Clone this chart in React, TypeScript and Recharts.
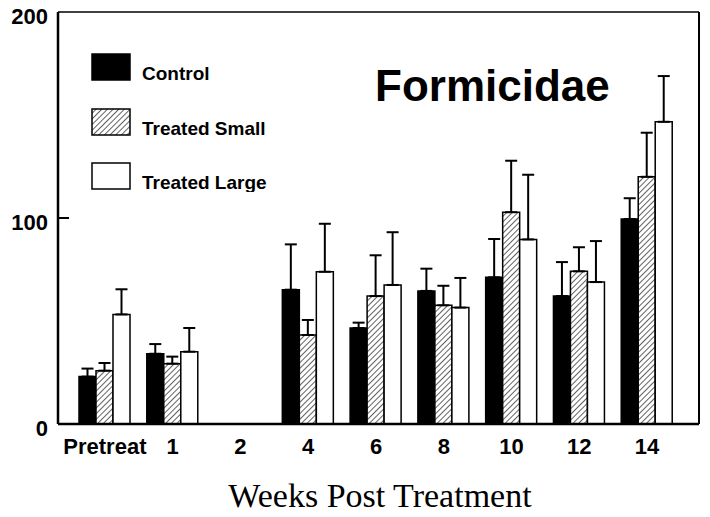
import React from 'react';
import { BarChart, Bar, XAxis, YAxis, ErrorBar, Legend } from 'recharts';

const categories = ['Pretreat', '1', '2', '4', '6', '8', '10', '12', '14'];
const seriesNames = ['Control', 'Treated Small', 'Treated Large'];
const controlMean = [23.0, 34.1, null, 65.2, 46.6, 64.6, 71.2, 62.1, 99.5];
const controlErr = [3.9, 4.7, null, 22.0, 2.6, 10.8, 18.6, 16.5, 10.1];
const smallMean = [25.9, 29.3, null, 43.2, 62.1, 57.6, 102.8, 74.1, 120.0];
const smallErr = [3.7, 3.4, null, 7.3, 19.8, 9.5, 25.0, 11.7, 21.4];
const largeMean = [53.2, 35.1, null, 73.9, 67.5, 56.5, 89.6, 68.9, 146.7];
const largeErr = [12.2, 11.5, null, 23.3, 25.6, 14.4, 31.4, 19.9, 22.2];
const yTicks = [0, 100, 200];

const data = categories.map((week, i) => ({
  week,
  control: controlMean[i],
  controlErr: controlErr[i] == null ? null : [0, controlErr[i]],
  small: smallMean[i],
  smallErr: smallErr[i] == null ? null : [0, smallErr[i]],
  large: largeMean[i],
  largeErr: largeErr[i] == null ? null : [0, largeErr[i]],
}));

const SANS = '"Liberation Sans", Arial, sans-serif';

const YTick = (props: any) => {
  const { x, y, payload } = props;
  return (
    <g>
      <text x={x - 10} y={y + 4} dy="0.36em" textAnchor="end" fontFamily={SANS} fontWeight="bold" fontSize={22} fill="#000">
        {payload.value}
      </text>
      {payload.value === 100 && <line x1={x} y1={y} x2={x + 11} y2={y} stroke="#000" strokeWidth={2} />}
    </g>
  );
};

const LegendBox = (props: any) => {
  const items = [...(props.payload || [])].sort(
    (a: any, b: any) => seriesNames.indexOf(a.value) - seriesNames.indexOf(b.value)
  );
  return (
    <div>
      {items.map((entry: any) => (
        <div key={entry.value} style={{ position: 'relative', height: 54.5, width: 200 }}>
          <svg width={200} height={30} style={{ position: 'absolute', left: 0, top: 0 }}>
            <rect x={1} y={1} width={38} height={26} fill={entry.color} stroke="#000" strokeWidth={1.5} />
            <text x={51} y={27} fontFamily={SANS} fontWeight="bold" fontSize={19} fill="#000">
              {entry.value}
            </text>
          </svg>
        </div>
      ))}
    </div>
  );
};

export default function App() {
  return (
    <div style={{ position: 'absolute', left: 0, top: 0, width: 710, height: 517, background: '#fff' }}>
      <svg width={0} height={0} style={{ position: 'absolute' }}>
        <defs>
          <pattern id="hatch" width={4} height={4} patternUnits="userSpaceOnUse" patternTransform="rotate(45)">
            <rect width={4} height={4} fill="#fff" />
            <line x1={0} y1={0} x2={0} y2={4} stroke="#3a3a3a" strokeWidth={1.6} />
          </pattern>
        </defs>
      </svg>
      <BarChart
        width={710}
        height={517}
        data={data}
        margin={{ top: 11, right: 10, bottom: 0, left: 0 }}
        barSize={17}
        barGap={0}
      >
        <XAxis
          dataKey="week"
          height={93}
          padding={{ left: 13, right: 18 }}
          tickLine={false}
          tickSize={0}
          tickMargin={14}
          axisLine={{ stroke: '#000', strokeWidth: 2.5 }}
          tick={{ fontFamily: SANS, fontWeight: 'bold', fontSize: 22, fill: '#000' }}
          interval={0}
        />
        <XAxis
          xAxisId="top"
          dataKey="week"
          orientation="top"
          height={1}
          tick={false}
          tickLine={false}
          axisLine={{ stroke: '#000', strokeWidth: 1.5 }}
        />
        <YAxis
          width={58}
          domain={[0, 200]}
          ticks={yTicks}
          tickLine={false}
          tickSize={0}
          tickMargin={0}
          axisLine={{ stroke: '#000', strokeWidth: 2.5 }}
          tick={<YTick />}
        />
        <YAxis
          yAxisId="right"
          orientation="right"
          width={1}
          domain={[0, 200]}
          tick={false}
          tickLine={false}
          axisLine={{ stroke: '#000', strokeWidth: 2 }}
        />
        <Legend
          layout="vertical"
          align="center"
          verticalAlign="middle"
          content={<LegendBox />}
          wrapperStyle={{ position: 'absolute', left: 91, top: 53, width: 200 }}
        />
        <Bar dataKey="control" name="Control" fill="#000" stroke="#000" strokeWidth={1.5} isAnimationActive={false}>
          <ErrorBar dataKey="controlErr" width={6} stroke="#000" strokeWidth={2} direction="y" />
        </Bar>
        <Bar dataKey="small" name="Treated Small" fill="url(#hatch)" stroke="#000" strokeWidth={1.5} isAnimationActive={false}>
          <ErrorBar dataKey="smallErr" width={6} stroke="#000" strokeWidth={2} direction="y" />
        </Bar>
        <Bar dataKey="large" name="Treated Large" fill="#fff" stroke="#000" strokeWidth={1.5} isAnimationActive={false}>
          <ErrorBar dataKey="largeErr" width={6} stroke="#000" strokeWidth={2} direction="y" />
        </Bar>
      </BarChart>
      <svg width={710} height={517} style={{ position: 'absolute', left: 0, top: 0, pointerEvents: 'none' }}>
        <text x={375} y={101} fontFamily={SANS} fontWeight="bold" fontSize={44} fill="#000">
          Formicidae
        </text>
        <text x={380} y={507} textAnchor="middle" fontFamily='"Liberation Serif", "Times New Roman", serif' fontSize={34} fill="#000">
          Weeks Post Treatment
        </text>
      </svg>
    </div>
  );
}
